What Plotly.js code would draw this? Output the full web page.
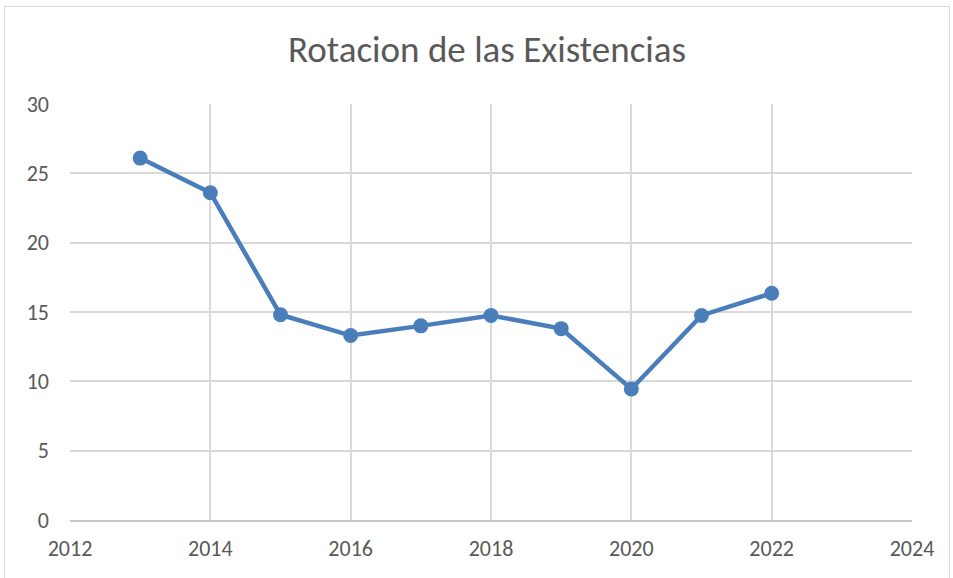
<!DOCTYPE html>
<html>
<head>
<meta charset="utf-8">
<script src="https://cdn.plot.ly/plotly-3.0.1.min.js"></script>
<style>
html,body{margin:0;padding:0;background:#fff;overflow:hidden;width:953px;height:578px;}
#frame{position:absolute;left:4px;top:6px;width:946px;height:600px;border:1px solid #d9d9d9;box-sizing:border-box;}
#chart{position:absolute;left:0;top:0;width:953px;height:578px;}
</style>
</head>
<body>
<div id="frame"></div>
<div id="chart"></div>
<script>
const years = [2013, 2014, 2015, 2016, 2017, 2018, 2019, 2020, 2021, 2022];
const rotacion = [26.1, 23.6, 14.8, 13.3, 14.0, 14.75, 13.8, 9.45, 14.75, 16.35];
const xTicks = [2012, 2014, 2016, 2018, 2020, 2022, 2024];
const yTicks = [0, 5, 10, 15, 20, 25, 30];
const titleText = "Rotacion de las Existencias";

const fontFam = "Carlito, 'Liberation Sans Narrow', 'Liberation Sans', sans-serif";

Plotly.newPlot('chart', [{
  x: years,
  y: rotacion,
  type: 'scatter',
  mode: 'lines+markers',
  line: {color: '#4a7ebb', width: 4.5},
  marker: {color: '#4a7ebb', size: 15},
  hoverinfo: 'skip'
}], {
  width: 953, height: 578,
  paper_bgcolor: 'rgba(0,0,0,0)',
  plot_bgcolor: 'rgba(0,0,0,0)',
  margin: {l: 70, r: 41, t: 104, b: 58},
  showlegend: false,
  title: {text: titleText, x: 0.511, xanchor: 'center', y: 0.915, yanchor: 'middle',
          font: {family: fontFam, size: 37, color: '#595959'}},
  xaxis: {range: [2012, 2024], tickvals: xTicks, ticktext: xTicks.map(String),
          showgrid: true, gridcolor: '#d9d9d9', gridwidth: 2,
          zeroline: false, showline: true, linecolor: '#c8c8c8', linewidth: 2,
          ticks: '', ticklabelstandoff: 8,
          tickfont: {family: fontFam, size: 22, color: '#595959'}, fixedrange: true},
  yaxis: {range: [0, 30], tickvals: yTicks, ticktext: yTicks.map(String),
          showgrid: true, gridcolor: '#d9d9d9', gridwidth: 2,
          zeroline: false, showline: false, ticks: '', ticklabelstandoff: 20,
          tickfont: {family: fontFam, size: 22, color: '#595959'}, fixedrange: true}
}, {displayModeBar: false, staticPlot: true});
</script>
</body>
</html>
